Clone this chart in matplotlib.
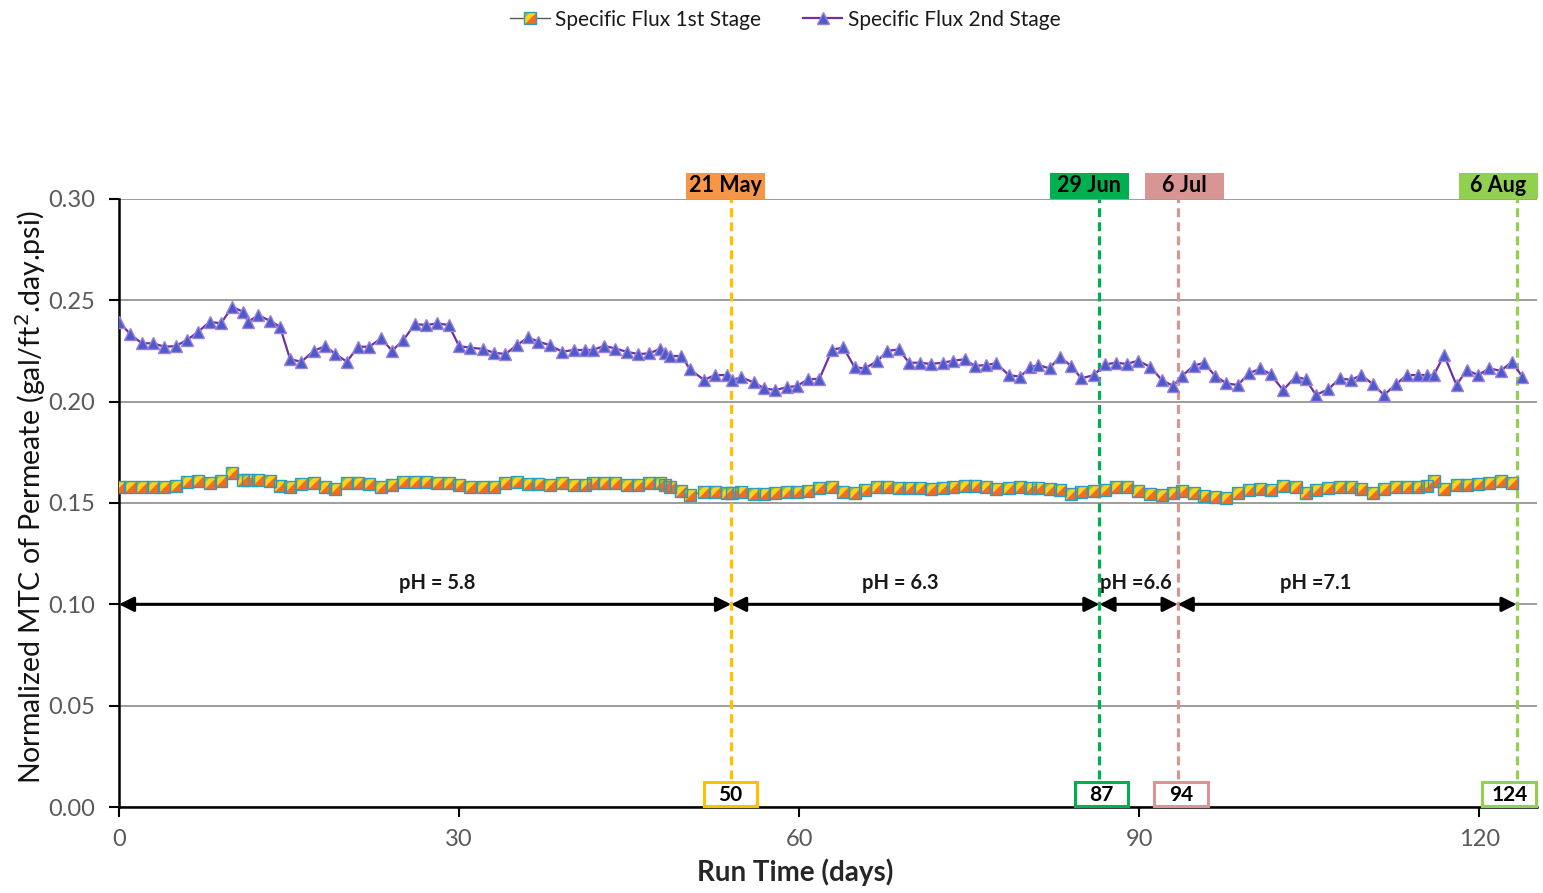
import numpy as np
import matplotlib
matplotlib.use("Agg")
import matplotlib.pyplot as plt
from matplotlib.lines import Line2D
from matplotlib.patches import Rectangle
import matplotlib.transforms as mtransforms

plt.rcParams['font.family'] = ['Lato', 'DejaVu Sans']

# run time (days) of each sample
days = [0, 1.0, 2.0, 3.0, 4.0, 5.0, 6.0, 7.0, 8.0, 9.0,
        10.0, 10.9, 11.4, 12.3, 13.3, 14.2, 15.1, 16.1, 17.2, 18.2,
        19.1, 20.1, 21.1, 22.1, 23.1, 24.1, 25.1, 26.1, 27.1, 28.1,
        29.1, 30.0, 31.0, 32.1, 33.1, 34.1, 35.1, 36.1, 37.0, 38.0,
        39.1, 40.1, 41.1, 41.8, 42.8, 43.8, 44.8, 45.8, 46.8, 47.7,
        48.2, 48.6, 49.6, 50.4, 51.6, 52.6, 53.6, 54.1, 54.9, 56.0,
        56.9, 57.9, 58.9, 59.8, 60.8, 61.8, 62.9, 63.9, 64.9, 65.8,
        66.9, 67.8, 68.8, 69.7, 70.7, 71.6, 72.7, 73.6, 74.6, 75.5,
        76.5, 77.4, 78.5, 79.5, 80.4, 81.1, 82.1, 83.0, 84.0, 84.9,
        86.0, 87.0, 88.0, 88.9, 89.9, 91.0, 92.0, 93.0, 93.8, 94.8,
        95.7, 96.7, 97.7, 98.7, 99.7, 100.7, 101.6, 102.7, 103.8, 104.7,
        105.6, 106.7, 107.7, 108.7, 109.6, 110.6, 111.6, 112.7, 113.6, 114.6,
        115.4, 116.0, 116.9, 118.0, 118.9, 119.9, 120.9, 121.9, 122.9, 123.8]

flux_2nd = [0.2394, 0.2333, 0.2288, 0.2288, 0.2271, 0.2274, 0.2304, 0.2345, 0.2394, 0.2386,
            0.2468, 0.2444, 0.2394, 0.2427, 0.2399, 0.2370, 0.2209, 0.2197, 0.2251, 0.2274,
            0.2235, 0.2197, 0.2271, 0.2271, 0.2312, 0.2251, 0.2304, 0.2383, 0.2378, 0.2386,
            0.2378, 0.2274, 0.2266, 0.2260, 0.2241, 0.2235, 0.2279, 0.2317, 0.2296, 0.2279,
            0.2246, 0.2255, 0.2255, 0.2255, 0.2275, 0.2262, 0.2246, 0.2235, 0.2238, 0.2260,
            0.2238, 0.2225, 0.2225, 0.2159, 0.2107, 0.2131, 0.2131, 0.2107, 0.2120, 0.2095,
            0.2066, 0.2057, 0.2071, 0.2077, 0.2110, 0.2113, 0.2255, 0.2268, 0.2169, 0.2164,
            0.2200, 0.2250, 0.2258, 0.2192, 0.2192, 0.2186, 0.2192, 0.2202, 0.2209, 0.2176,
            0.2181, 0.2189, 0.2131, 0.2123, 0.2169, 0.2181, 0.2164, 0.2222, 0.2176, 0.2115,
            0.2131, 0.2184, 0.2192, 0.2186, 0.2202, 0.2171, 0.2107, 0.2077, 0.2128, 0.2176,
            0.2192, 0.2128, 0.2090, 0.2082, 0.2139, 0.2164, 0.2135, 0.2057, 0.2123, 0.2110,
            0.2033, 0.2061, 0.2115, 0.2107, 0.2131, 0.2087, 0.2033, 0.2087, 0.2131, 0.2131,
            0.2131, 0.2131, 0.2230, 0.2082, 0.2156, 0.2131, 0.2164, 0.2152, 0.2197, 0.2123]

flux_1st = [0.1577, 0.1577, 0.1580, 0.1580, 0.1580, 0.1585, 0.1605, 0.1610, 0.1600, 0.1608,
            0.1646, 0.1613, 0.1613, 0.1613, 0.1608, 0.1584, 0.1577, 0.1593, 0.1600, 0.1577,
            0.1567, 0.1597, 0.1597, 0.1593, 0.1577, 0.1589, 0.1605, 0.1605, 0.1605, 0.1597,
            0.1597, 0.1589, 0.1580, 0.1580, 0.1580, 0.1597, 0.1605, 0.1593, 0.1593, 0.1589,
            0.1597, 0.1589, 0.1589, 0.1597, 0.1597, 0.1597, 0.1589, 0.1589, 0.1600, 0.1597,
            0.1589, 0.1580, 0.1560, 0.1539, 0.1556, 0.1556, 0.1551, 0.1551, 0.1556, 0.1544,
            0.1544, 0.1551, 0.1556, 0.1556, 0.1560, 0.1572, 0.1577, 0.1556, 0.1551, 0.1564,
            0.1577, 0.1577, 0.1572, 0.1572, 0.1572, 0.1567, 0.1572, 0.1577, 0.1584, 0.1584,
            0.1580, 0.1567, 0.1572, 0.1577, 0.1572, 0.1572, 0.1567, 0.1564, 0.1544, 0.1556,
            0.1560, 0.1564, 0.1577, 0.1580, 0.1560, 0.1544, 0.1539, 0.1548, 0.1560, 0.1551,
            0.1536, 0.1531, 0.1523, 0.1548, 0.1564, 0.1567, 0.1564, 0.1584, 0.1577, 0.1551,
            0.1564, 0.1572, 0.1577, 0.1580, 0.1567, 0.1551, 0.1567, 0.1580, 0.1580, 0.1577,
            0.1584, 0.1610, 0.1567, 0.1589, 0.1589, 0.1593, 0.1597, 0.1610, 0.1597]

# pH change events
event_days = [54.0, 86.5, 93.4, 123.3]
event_dates = ['21 May', '29 Jun', '6 Jul', '6 Aug']
event_labels = ['50', '87', '94', '124']
event_colors = ['#ffc000', '#00b050', '#d99594', '#92d050']
date_box_colors = ['#f79646', '#00b050', '#d99594', '#92d050']
date_box_x = [53.5, 85.6, 94.0, 121.7]
label_box_x = [53.96, 86.7, 93.7, 122.65]

ph_labels = ['pH = 5.8', 'pH = 6.3', 'pH =6.6', 'pH =7.1']
ph_label_x = [28.1, 68.9, 89.7, 105.6]

fig = plt.figure(figsize=(15.43, 8.93), dpi=100)
ax = fig.add_axes([0.0771, 0.0963, 0.9190, 0.6809])

x1 = days[:len(flux_1st)]

# 2nd stage: purple line with blue triangles
ax.plot(days, flux_2nd, color='#7030a0', lw=1.6, zorder=4)
ax.plot(days, flux_2nd, ls='none', marker='^', ms=9, mfc='#4b5bc9',
        mec='#9c7fd9', mew=1.0, zorder=5)

# 1st stage: squares with a three-tone fill
lower_tri = [(-1, -1), (1, -1), (1, 1), (-1, -1)]
upper_corner = [(-1, 1), (-1, 0.1), (-0.1, 1), (-1, 1)]
ax.plot(x1, flux_1st, color='#3d6fa0', lw=1.0, zorder=4)
ax.plot(x1, flux_1st, ls='none', marker='s', ms=8.5, mfc='#ffd21a', mew=0, zorder=5)
ax.plot(x1, flux_1st, ls='none', marker=lower_tri, ms=8.5, mfc='#f26b21', mew=0, zorder=5)
ax.plot(x1, flux_1st, ls='none', marker=upper_corner, ms=8.5, mfc='#8cc63f', mew=0, zorder=5)
ax.plot(x1, flux_1st, ls='none', marker='s', ms=8.5, mfc='none', mec='#2e9bbf',
        mew=1.0, zorder=6)

trans = mtransforms.blended_transform_factory(ax.transData, ax.transAxes)
box_h = 26 / 608

for d, bx, col, lab in zip(event_days, label_box_x, event_colors, event_labels):
    ax.plot([d, d], [0, 0.30], color=col, lw=2.3, ls=(0, (2.8, 1.6)), zorder=3)
    w = 4.7 if len(lab) < 3 else 4.8
    ax.add_patch(Rectangle((bx - w / 2, 0.002), w, box_h - 0.004, transform=trans,
                           facecolor='white', edgecolor=col, lw=2.2, zorder=7,
                           clip_on=False))
    ax.text(bx, box_h / 2 - 0.002, lab, transform=trans, ha='center', va='center',
            fontsize=15, fontweight='bold', color='black', zorder=8)

for x, txt, col in zip(date_box_x, event_dates, date_box_colors):
    ax.add_patch(Rectangle((x - 3.5, 1.0), 7.0, box_h, transform=trans,
                           facecolor=col, edgecolor='none', zorder=7, clip_on=False))
    ax.text(x, 1.0 + box_h / 2, txt, transform=trans, ha='center', va='center',
            fontsize=15.5, fontweight='bold', color='black', zorder=8, clip_on=False)

# pH periods marked by double arrows
bounds = [0.0] + event_days
for i in range(len(ph_labels)):
    ax.annotate('', xy=(bounds[i + 1], 0.10), xytext=(bounds[i], 0.10),
                arrowprops=dict(arrowstyle='<|-|>', color='black', lw=2.2,
                                mutation_scale=22, shrinkA=0, shrinkB=0),
                zorder=6)
    ax.text(ph_label_x[i], 0.1105, ph_labels[i], ha='center', va='center',
            fontsize=14.5, fontweight='bold', color='#1a1a1a', zorder=8)

ax.set_xlim(0, 125.1)
ax.set_ylim(0, 0.30)
ax.set_xticks([0, 30, 60, 90, 120])
ax.set_yticks(np.arange(0, 0.301, 0.05))
ax.set_yticklabels(['%.2f' % v for v in np.arange(0, 0.301, 0.05)])
ax.yaxis.grid(True, color='#8c8c8c', lw=1.2)
ax.set_axisbelow(True)
for s in ['top', 'right']:
    ax.spines[s].set_visible(False)
for s in ['left', 'bottom']:
    ax.spines[s].set_linewidth(1.8)
    ax.spines[s].set_color('black')
ax.tick_params(axis='both', direction='out', length=7, width=1.5, colors='black',
               labelsize=17, labelcolor='#595959')
ax.tick_params(axis='x', pad=9)
ax.tick_params(axis='y', pad=10)

ax.set_xlabel('Run Time (days)', fontsize=20, fontweight='bold', color='#262626')
ax.xaxis.set_label_coords(0.477, -0.085)
ax.set_ylabel('Normalized MTC of Permeate (gal/ft$^2$.day.psi)', fontsize=20.5,
              color='#141414')
ax.yaxis.set_label_coords(-0.050, 0.51)

h1 = (Line2D([], [], color='#595959', lw=1.0),
      Line2D([], [], ls='none', marker='s', ms=8.5, mfc='#ffd21a', mew=0),
      Line2D([], [], ls='none', marker=lower_tri, ms=8.5, mfc='#f26b21', mew=0),
      Line2D([], [], ls='none', marker=upper_corner, ms=8.5, mfc='#8cc63f', mew=0),
      Line2D([], [], ls='none', marker='s', ms=8.5, mfc='none', mec='#2e9bbf', mew=1.0))
h2 = (Line2D([], [], color='#7030a0', lw=1.6),
      Line2D([], [], ls='none', marker='^', ms=9, mfc='#4b5bc9', mec='#9c7fd9', mew=1.0))
fig.legend([h1, h2], ['Specific Flux 1st Stage', 'Specific Flux 2nd Stage'],
           loc='center', bbox_to_anchor=(0.509, 0.978), ncol=2, frameon=False,
           fontsize=15, handlelength=1.9, columnspacing=2.0, handletextpad=0.25,
           numpoints=1, labelcolor='#1a1a1a')

fig.savefig('out.png', dpi=100)
